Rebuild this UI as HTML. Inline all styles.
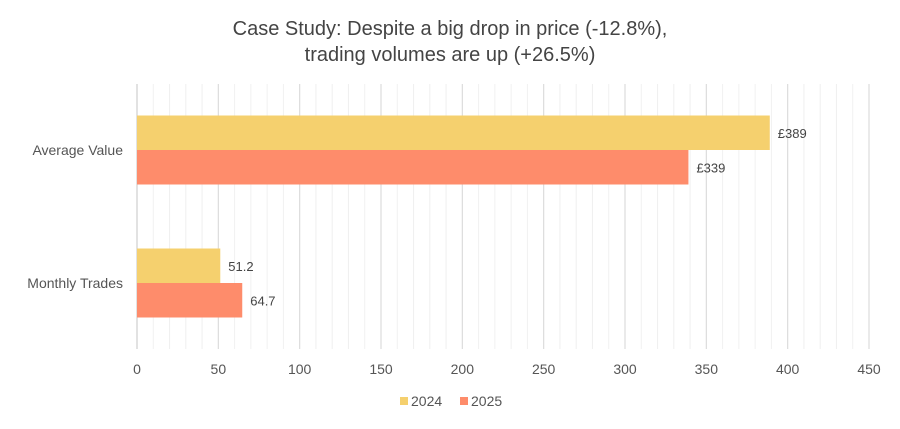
<!DOCTYPE html>
<html><head><meta charset="utf-8"><style>
body{margin:0;background:#fff;width:900px;height:424px;overflow:hidden;font-family:"Liberation Sans",sans-serif}
</style></head><body>
<svg id="chart" width="900" height="424" xmlns="http://www.w3.org/2000/svg">
<text x="450" y="35" text-anchor="middle" font-size="20" fill="#444">Case Study: Despite a big drop in price (-12.8%),</text>
<text x="450" y="61" text-anchor="middle" font-size="20" fill="#444">trading volumes are up (+26.5%)</text>
<g id="grid"></g><g id="bars"></g><g id="labels"></g>
<g>
<rect x="400" y="397" width="8" height="8" fill="#f5d06e"/>
<text x="411" y="406" font-size="14" fill="#555">2024</text>
<rect x="460" y="397" width="8" height="8" fill="#fe8c6b"/>
<text x="471" y="406" font-size="14" fill="#555">2025</text>
</g>
</svg>
<script>
const categories=["Average Value","Monthly Trades"];
const values2024=[389,51.2];
const values2025=[339,64.7];
const labels2024=["£389","51.2"];
const labels2025=["£339","64.7"];
const ticks=[0,50,100,150,200,250,300,350,400,450];
const NS="http://www.w3.org/2000/svg";
const x0=137,x1=869,maxV=450,gTop=84,gBot=349;
const xs=v=>x0+(v/maxV)*(x1-x0);
const catCenter=[150,283],barH=34.5;
function mk(tag,attrs,parent){const e=document.createElementNS(NS,tag);for(const k in attrs)e.setAttribute(k,attrs[k]);document.getElementById(parent).appendChild(e);return e;}
for(let v=0;v<=maxV;v+=10){
 const major=v%50===0;
 const l=mk('line',{x1:xs(v),x2:xs(v),y1:gTop,y2:gBot,stroke:v===0?'#cfcfcf':(major?'#dcdcdc':'#f0f0f0'),'stroke-width':major?1.2:1},'grid');
 
 
}
ticks.forEach(t=>{const e=mk('text',{x:xs(t),y:374,'text-anchor':'middle','font-size':14,fill:'#555'},'labels');e.textContent=t;
 
 });
categories.forEach((c,i)=>{
 const cy=catCenter[i];
 const t=mk('text',{x:123,y:cy+5,'text-anchor':'end','font-size':14,fill:'#555'},'labels');t.textContent=c;
 
 
 const b1=mk('rect',{x:x0,y:cy-barH,width:xs(values2024[i])-x0,height:barH,fill:'#f5d06e'},'bars');
 
 
 const b2=mk('rect',{x:x0,y:cy,width:xs(values2025[i])-x0,height:barH,fill:'#fe8c6b'},'bars');
 
 
 const l1=mk('text',{x:xs(values2024[i])+8,y:cy-barH/2+5,'font-size':13,fill:'#444'},'labels');l1.textContent=labels2024[i];
 
 
 const l2=mk('text',{x:xs(values2025[i])+8,y:cy+barH/2+5,'font-size':13,fill:'#444'},'labels');l2.textContent=labels2025[i];
 
 
});
</script>
</body></html>
